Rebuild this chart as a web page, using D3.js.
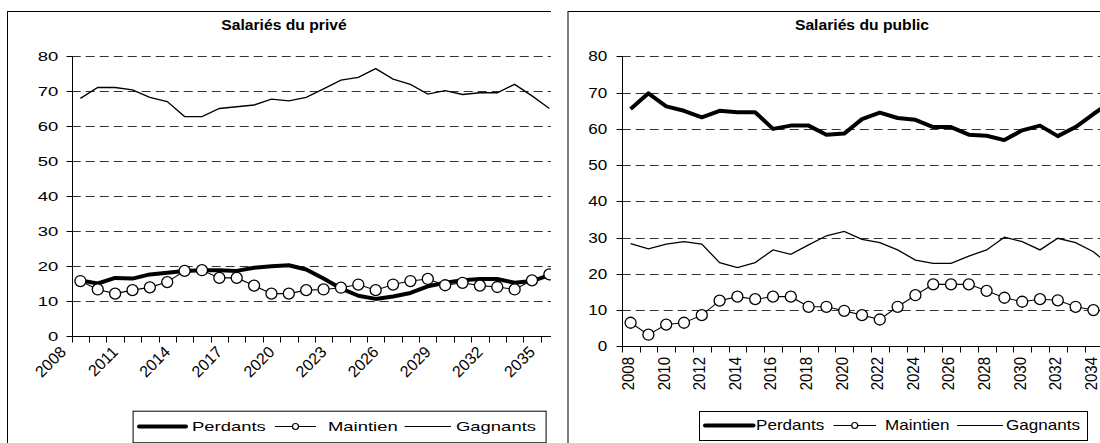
<!DOCTYPE html>
<html>
<head>
<meta charset="utf-8">
<script src="https://cdn.jsdelivr.net/npm/d3@7"></script>
<style>
 body { margin: 0; background: #fff; }
 text { font-family: "Liberation Sans", Arial, sans-serif; fill: #000; }
</style>
</head>
<body>
<div id="grafico"></div>
<script>
// categories and tick labels
var years = [2008, 2009, 2010, 2011, 2012, 2013, 2014, 2015, 2016, 2017, 2018, 2019, 2020, 2021,
             2022, 2023, 2024, 2025, 2026, 2027, 2028, 2029, 2030, 2031, 2032, 2033, 2034, 2035];
var yTicks = [0, 10, 20, 30, 40, 50, 60, 70, 80];
var privLabels = [2008, 2011, 2014, 2017, 2020, 2023, 2026, 2029, 2032, 2035];
var pubLabels = [2008, 2010, 2012, 2014, 2016, 2018, 2020, 2022, 2024, 2026, 2028, 2030, 2032, 2034];
var seriesNames = ["Perdants", "Maintien", "Gagnants"];

// Salariés du privé
var privPerdants = [15.9, 15.0, 16.6, 16.4, 17.6, 18.1, 18.6, 18.8, 18.8, 18.6, 19.5, 19.9, 20.2, 19.0,
                    16.4, 13.6, 11.5, 10.6, 11.3, 12.3, 14.2, 15.2, 15.9, 16.3, 16.3, 15.2, 15.7, 17.4];
var privMaintien = [15.7, 13.3, 12.1, 13.1, 13.9, 15.4, 18.6, 18.8, 16.6, 16.6, 14.4, 12.1, 12.1, 13.1,
                    13.3, 13.8, 14.7, 13.1, 14.7, 15.7, 16.3, 14.5, 15.2, 14.4, 14.0, 13.3, 15.9, 17.6];
var privGagnants = [67.9, 71.0, 71.0, 70.3, 68.2, 67.0, 62.7, 62.7, 65.0, 65.5, 66.0, 67.7, 67.2, 68.2,
                    70.6, 73.1, 73.9, 76.4, 73.4, 71.9, 69.1, 70.1, 69.0, 69.5, 69.5, 71.9, 68.6, 65.0];

// Salariés du public
var pubPerdants = [65.5, 69.8, 66.2, 65.0, 63.2, 65.0, 64.6, 64.6, 60.0, 60.9, 60.9, 58.4, 58.7, 62.7,
                   64.5, 63.0, 62.5, 60.5, 60.5, 58.4, 58.1, 56.9, 59.6, 60.9, 58.0, 60.5, 64.1, 67.5];
var pubMaintien = [6.5, 3.2, 6.0, 6.5, 8.6, 12.6, 13.7, 13.0, 13.7, 13.7, 10.9, 10.9, 9.8, 8.6,
                   7.4, 10.9, 14.1, 17.1, 17.1, 17.1, 15.3, 13.4, 12.3, 13.0, 12.7, 10.9, 10.0, 9.5];
var pubGagnants = [28.3, 26.9, 28.2, 28.9, 28.2, 23.1, 21.7, 23.1, 26.6, 25.4, 28.0, 30.5, 31.7, 29.5,
                   28.6, 26.6, 23.8, 22.9, 22.9, 24.9, 26.6, 30.1, 28.9, 26.6, 29.8, 28.6, 26.1, 22.0];

var svg = d3.select("#grafico")
  .append("svg")
  .attr("width", 1100)
  .attr("height", 443);

// text widened like the stretched original picture
function txt(g, s, x, y, size, sx, rot) {
  return g.append("text")
    .attr("transform", "translate(" + x + "," + y + ") scale(" + sx + ",1)" + (rot ? " rotate(" + rot + ")" : ""))
    .attr("font-size", size)
    .text(s);
}

function panel(o) {
  svg.append("clipPath").attr("id", "clip" + o.id)
    .append("rect")
    .attr("x", o.clip[0]).attr("y", 0)
    .attr("width", o.clip[1] - o.clip[0]).attr("height", 443);

  var g = svg.append("g").attr("clip-path", "url(#clip" + o.id + ")");

  // frame
  g.append("rect")
    .attr("x", o.frame + 0.5).attr("y", 11.5)
    .attr("width", 700).attr("height", 500)
    .attr("fill", "#fff").attr("stroke", "#000");

  var x = d3.scaleBand().domain(years).range([o.x0, o.x0 + years.length * o.bw]);
  var y = d3.scaleLinear().domain([0, 80]).range([o.y0, o.y80]);
  var xEnd = x.range()[1];
  var cx = function(d, i) { return x(years[i]) + x.bandwidth() / 2; };
  var ry = function(v) { return Math.round(y(v)) + 0.5; };

  // grid
  g.append("g").selectAll("line")
    .data(yTicks.slice(1))
    .enter().append("line")
    .attr("x1", o.x0).attr("x2", xEnd)
    .attr("y1", ry).attr("y2", ry)
    .attr("stroke", "#333")
    .attr("stroke-dasharray", "9,5");

  // y axis
  var ax = Math.round(o.x0) + 0.5;
  g.append("line")
    .attr("x1", ax).attr("x2", ax)
    .attr("y1", ry(0)).attr("y2", ry(80))
    .attr("stroke", "#000");
  g.append("g").selectAll("line")
    .data(yTicks)
    .enter().append("line")
    .attr("x1", ax - 6).attr("x2", ax)
    .attr("y1", ry).attr("y2", ry)
    .attr("stroke", "#000");
  yTicks.forEach(function(t) {
    txt(g, t, o.x0 - o.yLab.gap, y(t) + o.yLab.size * 0.36, o.yLab.size, o.yLab.sx)
      .attr("text-anchor", "end");
  });

  // x axis
  g.append("line")
    .attr("x1", o.x0).attr("x2", xEnd)
    .attr("y1", ry(0)).attr("y2", ry(0))
    .attr("stroke", "#000");
  g.append("g").selectAll("line")
    .data(years.concat(["end"]))
    .enter().append("line")
    .attr("x1", function(d) { return Math.round(d === "end" ? xEnd : x(d)) + 0.5; })
    .attr("x2", function(d) { return Math.round(d === "end" ? xEnd : x(d)) + 0.5; })
    .attr("y1", ry(0)).attr("y2", ry(0) + 6)
    .attr("stroke", "#000");
  o.labels.forEach(function(d) {
    var c = x(d) + x.bandwidth() / 2;
    txt(g, d, c + o.xLab.dx, o.y0 + o.xLab.dy, o.xLab.size, o.xLab.sx, o.xLab.rot)
      .attr("text-anchor", "end");
  });

  // series
  var line = d3.line().x(cx).y(function(d) { return y(d); });
  g.append("path").datum(o.perdants)
    .attr("fill", "none").attr("stroke", "#000")
    .attr("stroke-width", 4).attr("stroke-linejoin", "round")
    .attr("d", line);
  g.append("path").datum(o.maintien)
    .attr("fill", "none").attr("stroke", "#000")
    .attr("stroke-width", 1.1)
    .attr("d", line);
  g.append("g").selectAll("circle")
    .data(o.maintien)
    .enter().append("circle")
    .attr("cx", cx).attr("cy", function(d) { return y(d); })
    .attr("r", 5.5)
    .attr("fill", "#fff").attr("stroke", "#000").attr("stroke-width", 1.3);
  g.append("path").datum(o.gagnants)
    .attr("fill", "none").attr("stroke", "#000")
    .attr("stroke-width", 1.3)
    .attr("d", line);

  // title
  txt(g, o.title, o.titleX, 30, 14, 1.12)
    .attr("text-anchor", "middle")
    .attr("font-weight", "bold");

  // legend
  var L = o.legend;
  g.append("rect")
    .attr("x", L.box[0] + 0.5).attr("y", L.box[1] + 0.5)
    .attr("width", L.box[2] - L.box[0]).attr("height", L.box[3] - L.box[1])
    .attr("fill", "#fff").attr("stroke", "#000");
  var ly = L.base - 4.5;
  g.append("line").attr("x1", L.samples[0][0]).attr("x2", L.samples[0][1])
    .attr("y1", ly).attr("y2", ly)
    .attr("stroke", "#000").attr("stroke-width", 4).attr("stroke-linecap", "round");
  g.append("line").attr("x1", L.samples[1][0]).attr("x2", L.samples[1][1])
    .attr("y1", ly).attr("y2", ly)
    .attr("stroke", "#000").attr("stroke-width", 1.1);
  g.append("circle")
    .attr("cx", (L.samples[1][0] + L.samples[1][1]) / 2).attr("cy", ly)
    .attr("r", 3).attr("fill", "#fff").attr("stroke", "#000").attr("stroke-width", 1.2);
  g.append("line").attr("x1", L.samples[2][0]).attr("x2", L.samples[2][1])
    .attr("y1", ly).attr("y2", ly)
    .attr("stroke", "#000").attr("stroke-width", 1.2);
  seriesNames.forEach(function(s, i) {
    txt(g, s, L.text[i], L.base, L.size, L.sx);
  });
}

panel({
  id: "prive", clip: [0, 551], frame: 7,
  x0: 71.7, bw: 17.37, y0: 336, y80: 56,
  title: "Salariés du privé", titleX: 284,
  labels: privLabels,
  yLab: {gap: 13.4, size: 13, sx: 1.42},
  xLab: {dx: -13.4, dy: 17, size: 16, sx: 1, rot: -45},
  perdants: privPerdants, maintien: privMaintien, gagnants: privGagnants,
  legend: {box: [132.6, 410.7, 545.6, 442.3], samples: [[139, 186], [275, 316], [404.6, 451]],
           text: [192, 328, 456], base: 431, size: 13, sx: 1.42}
});

panel({
  id: "public", clip: [560, 1100], frame: 567.5,
  x0: 621.7, bw: 17.8, y0: 346.3, y80: 56.4,
  title: "Salariés du public", titleX: 862,
  labels: pubLabels,
  yLab: {gap: 14.4, size: 14, sx: 1.22},
  xLab: {dx: 3.4, dy: 10.7, size: 15, sx: 1.15, rot: -90},
  perdants: pubPerdants, maintien: pubMaintien, gagnants: pubGagnants,
  legend: {box: [699, 411, 1087, 440], samples: [[705, 753.5], [833.5, 876], [957, 1003]],
           text: [756, 885, 1006], base: 430, size: 14, sx: 1.22}
});
</script>
</body>
</html>
